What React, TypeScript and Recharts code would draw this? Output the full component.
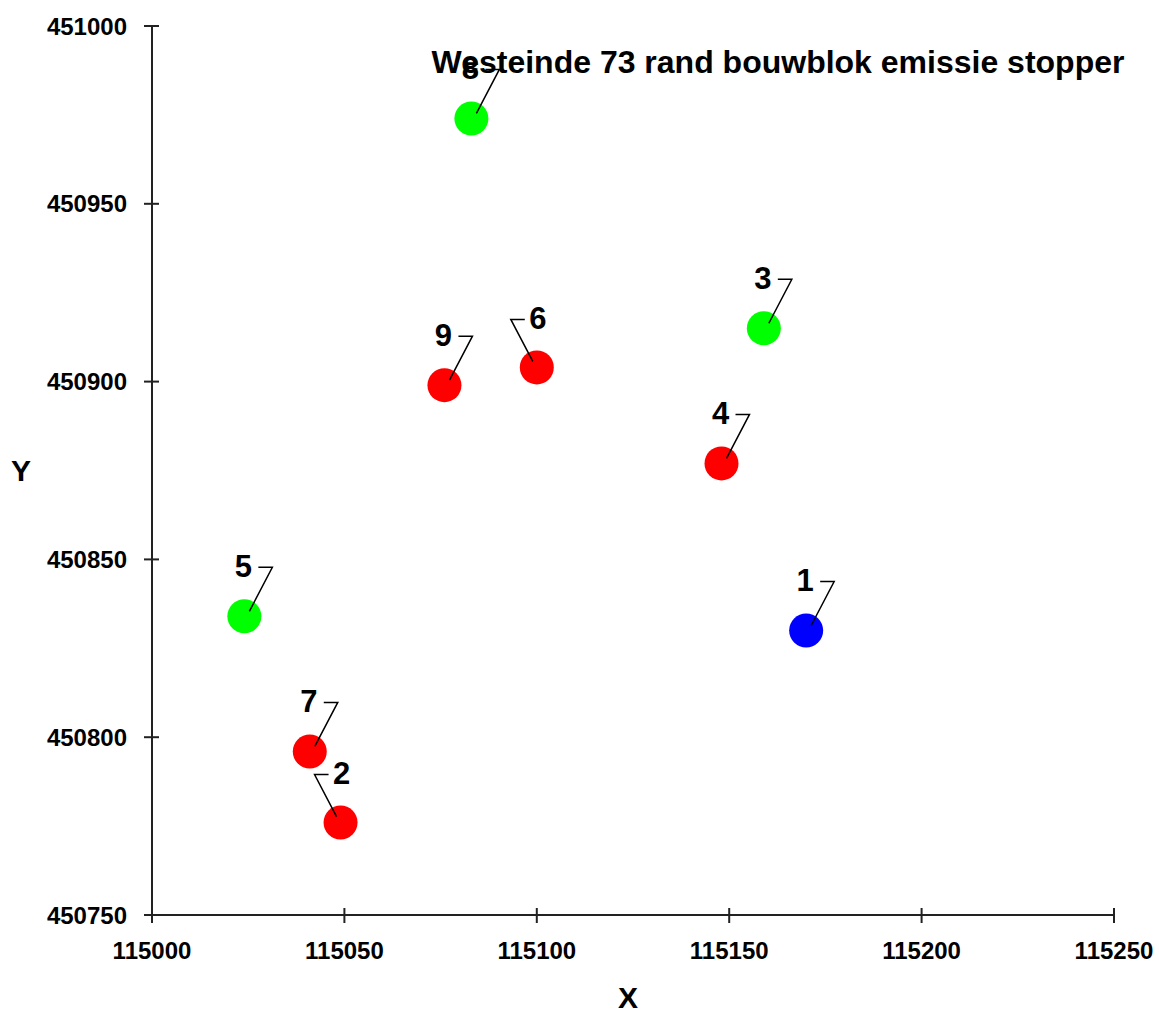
import React from 'react'
import { ScatterChart, Scatter, XAxis, YAxis } from 'recharts'

// punten: nummer, x, y
const pointLabels = ['1', '2', '3', '4', '5', '6', '7', '8', '9']
const xValues = [115170, 115049, 115159, 115148, 115024, 115100, 115041, 115083, 115076]
const yValues = [450830, 450776, 450915, 450877, 450834, 450904, 450796, 450974, 450899]
const pointKinds = ['blue', 'red', 'green', 'red', 'green', 'red', 'red', 'green', 'red']

const xTicks = [115000, 115050, 115100, 115150, 115200, 115250]
const yTicks = [450750, 450800, 450850, 450900, 450950, 451000]

const title = 'Westeinde 73 rand bouwblok emissie stopper'

const kindColors: Record<string, string> = { red: '#ff0000', green: '#00ff00', blue: '#0000ff' }
// labels with the leader line to the left
const leftLeaders = ['2', '6']

const FONT = '"Liberation Sans", Arial, sans-serif'
const AXIS_COLOR = '#222'

const data = pointLabels.map((label, i) => ({
  label,
  x: xValues[i],
  y: yValues[i],
  kind: pointKinds[i]
}))

const PointShape = (props: any) => {
  const { cx, cy, payload } = props
  if (cx == null || cy == null) return null
  const left = leftLeaders.includes(payload.label)
  const color = kindColors[payload.kind]
  return (
    <g>
      <circle cx={cx} cy={cy} r={17} fill={color} />
      {left ? (
        <>
          <polyline
            points={`${cx - 4},${cy - 6} ${cx - 26},${cy - 48} ${cx - 12},${cy - 48}`}
            fill="none"
            stroke="#000"
            strokeWidth={1.5}
          />
          <text x={cx + 1} y={cy - 49} textAnchor="middle" dominantBaseline="central"
            fontFamily={FONT} fontWeight="bold" fontSize={31} fill="#000">
            {payload.label}
          </text>
        </>
      ) : (
        <>
          <polyline
            points={`${cx + 5},${cy - 5} ${cx + 28},${cy - 49} ${cx + 14},${cy - 49}`}
            fill="none"
            stroke="#000"
            strokeWidth={1.5}
          />
          <text x={cx - 1} y={cy - 50} textAnchor="middle" dominantBaseline="central"
            fontFamily={FONT} fontWeight="bold" fontSize={31} fill="#000">
            {payload.label}
          </text>
        </>
      )}
    </g>
  )
}

const YTick = (props: any) => {
  const { x, y, payload } = props
  return (
    <g>
      <line x1={x - 8} x2={x + 7} y1={y} y2={y} stroke={AXIS_COLOR} strokeWidth={2} />
      <text x={x - 25} y={y} textAnchor="end" dominantBaseline="central"
        fontFamily={FONT} fontWeight="bold" fontSize={24} fill="#000">
        {payload.value}
      </text>
    </g>
  )
}

const XTick = (props: any) => {
  const { x, y, payload } = props
  return (
    <g>
      <line x1={x} x2={x} y1={y - 7} y2={y + 8} stroke={AXIS_COLOR} strokeWidth={2} />
      <text x={x} y={y + 35} textAnchor="middle" dominantBaseline="central"
        fontFamily={FONT} fontWeight="bold" fontSize={24} fill="#000">
        {payload.value}
      </text>
    </g>
  )
}

export default function App() {
  return (
    <div style={{ position: 'absolute', left: 0, top: 0, background: '#fff' }}>
      <ScatterChart
        width={1159}
        height={1014}
        margin={{ top: 26, right: 45, bottom: 98, left: 151 }}
      >
        <XAxis
          type="number"
          dataKey="x"
          domain={[115000, 115250]}
          ticks={xTicks}
          height={1}
          tickSize={0}
          tickMargin={0}
          tickLine={false}
          tick={<XTick />}
          axisLine={{ stroke: AXIS_COLOR, strokeWidth: 2 }}
          allowDataOverflow
        />
        <YAxis
          type="number"
          dataKey="y"
          domain={[450750, 451000]}
          ticks={yTicks}
          width={1}
          tickSize={0}
          tickMargin={0}
          tickLine={false}
          tick={<YTick />}
          axisLine={{ stroke: AXIS_COLOR, strokeWidth: 2 }}
          allowDataOverflow
        />
        <text x={778} y={62} textAnchor="middle" dominantBaseline="central"
          fontFamily={FONT} fontWeight="bold" fontSize={32} fill="#000">
          {title}
        </text>
        <text x={21} y={470} textAnchor="middle" dominantBaseline="central"
          fontFamily={FONT} fontWeight="bold" fontSize={30} fill="#000">
          Y
        </text>
        <text x={628} y={997} textAnchor="middle" dominantBaseline="central"
          fontFamily={FONT} fontWeight="bold" fontSize={30} fill="#000">
          X
        </text>
        <Scatter data={data} shape={<PointShape />} isAnimationActive={false} />
      </ScatterChart>
    </div>
  )
}
